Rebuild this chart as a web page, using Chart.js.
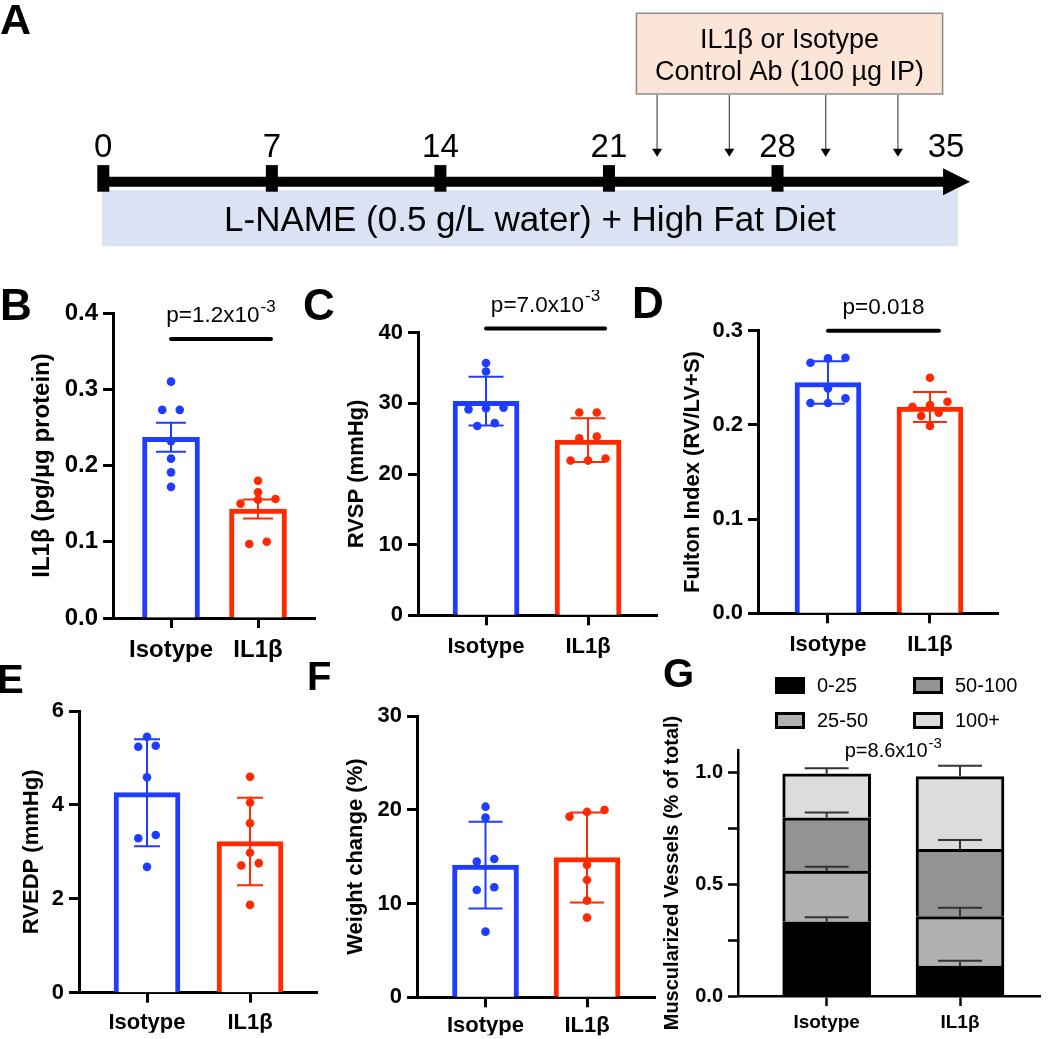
<!DOCTYPE html>
<html>
<head>
<meta charset="utf-8">
<title>IL1β blockade figure</title>
<script src="https://cdn.jsdelivr.net/npm/chart.js@4.4.1/dist/chart.umd.min.js"></script>
<style>
  html, body { margin:0; padding:0; background:#fff; }
  body { position:relative; width:1050px; height:1039px; overflow:hidden; font-family:"Liberation Sans", Arial, sans-serif; }
  canvas { position:absolute; }
  .letter { position:absolute; font-weight:bold; line-height:1; color:#000; white-space:nowrap; }
  .lg-item { position:absolute; height:17px; display:flex; align-items:center; font-size:20px; line-height:17px; white-space:nowrap; color:#000; }
  .lg-box { box-sizing:border-box; width:30px; height:17px; border:3px solid #000; margin-right:12px; flex:none; }
</style>
</head>
<body>
<canvas id="cA" width="1050" height="260" style="left:0;top:0"></canvas>
<canvas id="cB" width="330" height="390" style="left:0;top:290px"></canvas>
<canvas id="cC" width="330" height="390" style="left:330px;top:290px"></canvas>
<canvas id="cD" width="410" height="390" style="left:640px;top:290px"></canvas>
<canvas id="cE" width="330" height="369" style="left:0;top:670px"></canvas>
<canvas id="cF" width="330" height="369" style="left:330px;top:670px"></canvas>
<canvas id="cG" width="410" height="369" style="left:640px;top:670px"></canvas>

<div class="letter" style="left:0;top:-2px;font-size:43px">A</div>
<div class="letter" style="left:0;top:283px;font-size:44px">B</div>
<div class="letter" style="left:303px;top:283px;font-size:44px">C</div>
<div class="letter" style="left:632px;top:281px;font-size:44px">D</div>
<div class="letter" style="left:-3px;top:659px;font-size:40px">E</div>
<div class="letter" style="left:307px;top:656px;font-size:40px">F</div>
<div class="letter" style="left:663px;top:653px;font-size:40px">G</div>
<div id="legG"></div>

<script>
// ================= DATA =================
const categories = ['Isotype', 'IL1β'];

// Panel A – timeline (days)
const timelineDays = [0, 7, 14, 21, 28, 35];
const markedDays = [0, 7, 14, 21, 28];
const injectionDays = [23, 26, 30, 33];
const dietDays = [0, 35.5];
const dietText = 'L-NAME (0.5 g/L water) + High Fat Diet';
const injectionText = ['IL1β or Isotype', 'Control Ab (100 µg IP)'];

// Panel B – IL1β (pg/µg protein), mean ± SEM
const il1bMean = [0.237, 0.143];
const il1bErr = [0.019, 0.0125];
const il1bIsotype = [0.310, 0.273, 0.273, 0.232, 0.209, 0.191, 0.172];
const il1bTreated = [0.180, 0.165, 0.156, 0.155, 0.150, 0.100, 0.097];
const il1bP = ['p=1.2x10', '-3'];

// Panel C – RVSP (mmHg), mean ± SD
const rvspMean = [30.3, 24.8];
const rvspErr = [3.45, 3.1];
const rvspIsotype = [35.7, 34.5, 29.4, 29.3, 29.15, 27.2, 26.8];
const rvspTreated = [28.7, 28.7, 25.3, 25.05, 22.2, 21.9, 21.9];
const rvspP = ['p=7.0x10', '-3'];

// Panel D – Fulton index, mean ± SD
const fultonMean = [0.245, 0.219];
const fultonErr = [0.0226, 0.0159];
const fultonIsotype = [0.2713, 0.2706, 0.266, 0.2388, 0.2282, 0.2232, 0.2232];
const fultonTreated = [0.2501, 0.2246, 0.2211, 0.2193, 0.2130, 0.2094, 0.1988];
const fultonP = ['p=0.018', ''];

// Panel E – RVEDP (mmHg), mean ± SD
const rvedpMean = [4.26, 3.22];
const rvedpErr = [1.14, 0.93];
const rvedpIsotype = [5.45, 5.26, 5.24, 4.59, 3.36, 3.29, 2.68];
const rvedpTreated = [4.60, 4.05, 3.61, 2.98, 2.76, 2.71, 1.87];

// Panel F – Weight change (%), mean ± SD
const weightMean = [14.1, 14.9];
const weightErr = [4.62, 4.8];
const weightIsotype = [20.33, 19.16, 14.75, 14.47, 11.73, 11.45, 7.0];
const weightTreated = [19.98, 19.77, 19.27, 14.11, 12.51, 10.31, 8.50];

// Panel G – muscularized vessels (fraction of total), stacked
const vesselGroups = ['0-25', '25-50', '50-100', '100+'];
const vesselIsotype = [0.332, 0.227, 0.238, 0.197];
const vesselTreated = [0.134, 0.221, 0.301, 0.325];
const vesselIsotypeErr = [0.020, 0.019, 0.024, 0.024];
const vesselTreatedErr = [0.024, 0.040, 0.042, 0.049];
const vesselP = ['p=8.6x10', '-3'];

// ================= STYLE =================
const FONT = '"Liberation Sans", Arial, sans-serif';
Chart.defaults.font.family = FONT;
Chart.defaults.color = '#000';
const BLUE = '#1f3dff', RED = '#ff2a00';
const groupColors = [BLUE, RED];
const vesselColors = ['#000000', '#b0b0b0', '#939393', '#dcdcdc'];

function drawP(ctx, cx, cy, main, sup, size) {
  ctx.save();
  ctx.fillStyle = '#000';
  ctx.textAlign = 'left';
  ctx.textBaseline = 'alphabetic';
  ctx.font = size + 'px ' + FONT;
  const wm = ctx.measureText(main).width;
  const ss = Math.round(size * 0.74);
  ctx.font = ss + 'px ' + FONT;
  const ws = sup ? ctx.measureText(sup).width + 1 : 0;
  const sx = cx - (wm + ws) / 2;
  ctx.font = size + 'px ' + FONT;
  ctx.fillText(main, sx, cy + 0.358 * size);
  if (sup) {
    ctx.font = ss + 'px ' + FONT;
    ctx.fillText(sup, sx + wm + 1, cy - 0.36 * size + 0.358 * ss);
  }
  ctx.restore();
}

// beeswarm-style horizontal spread of points, computed from the chart's scales
function swarm(chart, groups, spacingPx, minGapPx) {
  const xs = chart.scales.x, ys = chart.scales.y;
  const unit = xs.getPixelForValue(1) - xs.getPixelForValue(0);
  groups.forEach((vals, gi) => {
    const ds = chart.data.datasets[gi + 1];
    const sorted = vals.map((v, k) => ({ v, k })).sort((a, b) => a.v - b.v);
    const rows = [];
    sorted.forEach(p => {
      const py = ys.getPixelForValue(p.v);
      const row = rows[rows.length - 1];
      if (row && Math.abs(row.py - py) < minGapPx) row.items.push(p);
      else rows.push({ py, items: [p] });
    });
    rows.forEach(r => {
      const n = r.items.length;
      r.items.forEach((p, j) => { ds.data[p.k].x = gi + (j - (n - 1) / 2) * spacingPx / unit; });
    });
  });
  chart.update('none');
}

function barPanel(id, o) {
  const tickFont = { family: FONT, size: o.fs, weight: 'bold' };
  const chart = new Chart(document.getElementById(id), {
    type: 'bar',
    data: {
      datasets: [
        { type: 'bar', data: o.mean.map((v, i) => ({ x: i, y: v })), backgroundColor: '#ffffff',
          borderColor: groupColors, borderWidth: 5, borderSkipped: 'start', barThickness: o.barW, order: 2 },
        ...o.points.map((arr, gi) => ({
          type: 'scatter', data: arr.map(v => ({ x: gi, y: v })), pointRadius: 4.3, pointBorderWidth: 0,
          pointBackgroundColor: groupColors[gi], pointBorderColor: groupColors[gi], order: 0 }))
      ]
    },
    options: {
      responsive: false, animation: false, devicePixelRatio: 1, events: [],
      layout: { autoPadding: false, padding: { left: 0, right: o.padR, top: o.padT, bottom: o.padB } },
      plugins: { legend: { display: false }, tooltip: { enabled: false } },
      scales: {
        x: {
          type: 'linear', min: o.xMin, max: o.xMax, offset: false,
          afterBuildTicks: ax => { ax.ticks = categories.map((c, i) => ({ value: i })); },
          afterFit: ax => { ax.height = o.xH; },
          ticks: { callback: v => categories[Math.round(v)], font: tickFont, color: '#000', padding: o.xPad, maxRotation: 0, autoSkip: false },
          grid: { offset: false, drawOnChartArea: false, drawTicks: true, tickLength: 10, tickWidth: 3, tickColor: '#000' },
          border: { display: true, color: '#000', width: 3 }
        },
        y: {
          min: o.yMin, max: o.yMax,
          afterFit: ax => { ax.width = o.yW; },
          ticks: { stepSize: o.step, callback: v => v.toFixed(o.dec), font: tickFont, color: '#000', padding: 5 },
          grid: { drawOnChartArea: false, drawTicks: true, tickLength: 10, tickWidth: 3, tickColor: '#000' },
          border: { display: true, color: '#000', width: 3 },
          title: { display: true, text: o.title, font: tickFont, color: '#000', padding: { top: o.titlePad, bottom: 0 } }
        }
      }
    },
    plugins: [{
      id: 'errorsAndP',
      afterDatasetDraw(chart, args) {
        if (args.index !== 0) return;
        const { ctx } = chart, xs = chart.scales.x, ys = chart.scales.y;
        ctx.save();
        ctx.lineWidth = 2;
        o.mean.forEach((m, i) => {
          const px = xs.getPixelForValue(i);
          const yt = ys.getPixelForValue(m + o.err[i]), yb = ys.getPixelForValue(m - o.err[i]);
          ctx.strokeStyle = groupColors[i];
          ctx.beginPath();
          ctx.moveTo(px, yt); ctx.lineTo(px, yb);
          ctx.moveTo(px - o.cap, yt); ctx.lineTo(px + o.cap, yt);
          ctx.moveTo(px - o.cap, yb); ctx.lineTo(px + o.cap, yb);
          ctx.stroke();
        });
        ctx.restore();
      },
      afterDraw(chart) {
        if (!o.p) return;
        const { ctx } = chart, xs = chart.scales.x, ys = chart.scales.y;
        const x0 = xs.getPixelForValue(0), x1 = xs.getPixelForValue(1) + o.sigExt;
        const by = ys.getPixelForValue(o.sigLevel);
        ctx.save();
        ctx.strokeStyle = '#000'; ctx.lineWidth = 4; ctx.lineCap = 'round';
        ctx.beginPath(); ctx.moveTo(x0, by); ctx.lineTo(x1, by); ctx.stroke();
        ctx.restore();
        drawP(ctx, (x0 + x1) / 2, by - 25, o.p[0], o.p[1], 22.5);
      }
    }]
  });
  swarm(chart, o.points, 17.5, 8);
  return chart;
}

// ================= PANEL A =================
const timelinePlugin = {
  id: 'timelineDecor',
  beforeDatasetsDraw(chart) {
    const { ctx } = chart, xs = chart.scales.x, ys = chart.scales.y;
    const ly = ys.getPixelForValue(0);
    const bx0 = xs.getPixelForValue(dietDays[0]) - 1.5, bx1 = xs.getPixelForValue(dietDays[1]);
    ctx.save();
    ctx.fillStyle = '#dae3f3';
    ctx.fillRect(bx0, ly + 8.5, bx1 - bx0, 56);
    ctx.fillStyle = '#000';
    ctx.font = '35px ' + FONT;
    ctx.textAlign = 'center'; ctx.textBaseline = 'alphabetic';
    ctx.fillText(dietText, (bx0 + bx1) / 2, ly + 49.5);
    ctx.restore();
  },
  afterDatasetsDraw(chart) {
    const { ctx } = chart, xs = chart.scales.x, ys = chart.scales.y;
    const ly = ys.getPixelForValue(0);
    ctx.save();
    // arrow head at end of the timeline
    const base = xs.getPixelForValue(timelineDays[timelineDays.length - 1]) - 3;
    ctx.fillStyle = '#000';
    ctx.beginPath();
    ctx.moveTo(base, ly - 13.5); ctx.lineTo(base + 27, ly); ctx.lineTo(base, ly + 13.5); ctx.closePath();
    ctx.fill();
    // day labels
    ctx.font = '33px ' + FONT;
    ctx.textAlign = 'center'; ctx.textBaseline = 'alphabetic';
    timelineDays.forEach(d => ctx.fillText(String(d), xs.getPixelForValue(d), ly - 24.7));
    // injection box
    const boxL = xs.getPixelForValue(injectionDays[0]) - 20.7;
    const boxR = xs.getPixelForValue(injectionDays[injectionDays.length - 1]) + 44.7;
    const boxT = ly - 168.4, boxB = ly - 87.7;
    ctx.fillStyle = '#fbe5d6';
    ctx.fillRect(boxL, boxT, boxR - boxL, boxB - boxT);
    ctx.strokeStyle = '#8c8c8c'; ctx.lineWidth = 1.5;
    ctx.strokeRect(boxL, boxT, boxR - boxL, boxB - boxT);
    ctx.fillStyle = '#000';
    ctx.font = '27px ' + FONT;
    ctx.fillText(injectionText[0], (boxL + boxR) / 2, ly - 133.4);
    ctx.fillText(injectionText[1], (boxL + boxR) / 2, ly - 101.7);
    // injection arrows
    ctx.strokeStyle = '#595959'; ctx.fillStyle = '#000'; ctx.lineWidth = 1.3;
    injectionDays.forEach(d => {
      const px = xs.getPixelForValue(d);
      ctx.beginPath(); ctx.moveTo(px, boxB + 1); ctx.lineTo(px, ly - 32); ctx.stroke();
      ctx.beginPath(); ctx.moveTo(px - 5, ly - 33); ctx.lineTo(px + 5, ly - 33); ctx.lineTo(px, ly - 25); ctx.closePath(); ctx.fill();
    });
    ctx.restore();
  }
};

new Chart(document.getElementById('cA'), {
  type: 'line',
  data: {
    datasets: [
      { type: 'line', data: [{ x: timelineDays[0], y: 0 }, { x: timelineDays[timelineDays.length - 1], y: 0 }],
        borderColor: '#000', borderWidth: 10, pointRadius: 0, borderCapStyle: 'butt' },
      { type: 'scatter', data: markedDays.map(d => ({ x: d, y: 3.3 })), pointStyle: 'line', pointRotation: 90,
        pointRadius: 13.3, pointBorderWidth: 12, pointBorderColor: '#000', pointBackgroundColor: '#000' }
    ]
  },
  options: {
    responsive: false, animation: false, devicePixelRatio: 1, events: [],
    layout: { autoPadding: false, padding: 0 },
    plugins: { legend: { display: false }, tooltip: { enabled: false } },
    scales: {
      x: { type: 'linear', display: false, min: -4.29, max: 39.316 },
      y: { type: 'linear', display: false, min: -78.3, max: 181.7 }
    }
  },
  plugins: [timelinePlugin]
});

// ================= PANELS B–F =================
barPanel('cB', { mean: il1bMean, err: il1bErr, points: [il1bIsotype, il1bTreated], yMin: 0, yMax: 0.4, step: 0.1, dec: 1,
  title: 'IL1β (pg/µg protein)', fs: 24, barW: 57, cap: 15, yW: 113, padR: 15, padT: 23, padB: 12, xH: 50, xPad: 8,
  xMin: -0.6667, xMax: 1.655, titlePad: 28, p: il1bP, sigLevel: 0.366, sigExt: 13 });

barPanel('cC', { mean: rvspMean, err: rvspErr, points: [rvspIsotype, rvspTreated], yMin: 0, yMax: 40, step: 10, dec: 0,
  title: 'RVSP (mmHg)', fs: 22, barW: 66, cap: 17.5, yW: 88, padR: 3, padT: 42.7, padB: 14.7, xH: 50, xPad: 8,
  xMin: -0.6667, xMax: 1.676, titlePad: 14, p: rvspP, sigLevel: 40.6, sigExt: 17 });

barPanel('cD', { mean: fultonMean, err: fultonErr, points: [fultonIsotype, fultonTreated], yMin: 0, yMax: 0.3, step: 0.1, dec: 1,
  title: 'Fulton Index (RV/LV+S)', fs: 22, barW: 66, cap: 17, yW: 118, padR: 52, padT: 40.7, padB: 16.7, xH: 50, xPad: 8,
  xMin: -0.686, xMax: 1.667, titlePad: 40, p: fultonP, sigLevel: 0.30, sigExt: 9 });

barPanel('cE', { mean: rvedpMean, err: rvedpErr, points: [rvedpIsotype, rvedpTreated], yMin: 0, yMax: 6, step: 2, dec: 0,
  title: 'RVEDP (mmHg)', fs: 22, barW: 66, cap: 13, yW: 79, padR: 13, padT: 41, padB: 6.3, xH: 40, xPad: 7,
  xMin: -0.660, xMax: 1.650, titlePad: 19, p: null });

barPanel('cF', { mean: weightMean, err: weightErr, points: [weightIsotype, weightTreated], yMin: 0, yMax: 30, step: 10, dec: 0,
  title: 'Weight change (%)', fs: 22, barW: 66, cap: 17, yW: 87, padR: 5, padT: 46, padB: 3.7, xH: 38, xPad: 5,
  xMin: -0.675, xMax: 1.670, titlePad: 13, p: null });

// ================= PANEL G =================
(function () {
  const tickFont = { family: FONT, size: 20, weight: 'bold' };
  const labFont = { family: FONT, size: 19, weight: 'bold' };
  const chart = new Chart(document.getElementById('cG'), {
    type: 'bar',
    data: {
      datasets: vesselGroups.map((g, i) => ({
        label: g,
        data: [{ x: 0, y: vesselIsotype[i] }, { x: 1, y: vesselTreated[i] }],
        backgroundColor: vesselColors[i], borderColor: '#000', borderWidth: 3, borderSkipped: 'start', barThickness: 88
      }))
    },
    options: {
      responsive: false, animation: false, devicePixelRatio: 1, events: [],
      layout: { autoPadding: false, padding: { left: 0, right: 10, top: 80, bottom: 3 } },
      plugins: { legend: { display: false }, tooltip: { enabled: false } },
      scales: {
        x: {
          type: 'linear', stacked: true, min: -0.665, max: 1.600, offset: false,
          afterBuildTicks: ax => { ax.ticks = categories.map((c, i) => ({ value: i })); },
          afterFit: ax => { ax.height = 40; },
          ticks: { callback: v => categories[Math.round(v)], font: labFont, color: '#000', padding: 5, maxRotation: 0, autoSkip: false },
          grid: { offset: false, drawOnChartArea: false, drawTicks: true, tickLength: 10, tickWidth: 2.5, tickColor: '#000' },
          border: { display: true, color: '#000', width: 2.5 }
        },
        y: {
          stacked: true, min: 0, max: 1.1,
          afterBuildTicks: ax => { ax.ticks = [0, 0.25, 0.5, 0.75, 1].map(v => ({ value: v })); },
          afterFit: ax => { ax.width = 98; },
          ticks: { callback: v => (Math.abs(v * 2 - Math.round(v * 2)) < 1e-9 ? v.toFixed(1) : ''), font: tickFont, color: '#000', padding: 5 },
          grid: { drawOnChartArea: false, drawTicks: true, tickLength: 10, tickWidth: 2.5, tickColor: '#000' },
          border: { display: true, color: '#000', width: 2.5 },
          title: { display: true, text: 'Muscularized Vessels (% of total)', font: tickFont, color: '#000', padding: { top: 20, bottom: 0 } }
        }
      }
    },
    plugins: [{
      id: 'stackErrors',
      afterDatasetsDraw(chart) {
        const { ctx } = chart, xs = chart.scales.x, ys = chart.scales.y;
        const groups = [[vesselIsotype, vesselIsotypeErr], [vesselTreated, vesselTreatedErr]];
        ctx.save();
        ctx.strokeStyle = '#333'; ctx.lineWidth = 2;
        groups.forEach(([vals, errs], gi) => {
          const px = xs.getPixelForValue(gi);
          let cum = 0;
          vals.forEach((v, i) => {
            cum += v;
            const y0 = ys.getPixelForValue(cum), y1 = ys.getPixelForValue(cum + errs[i]);
            ctx.beginPath();
            ctx.moveTo(px, y0); ctx.lineTo(px, y1);
            ctx.moveTo(px - 22, y1); ctx.lineTo(px + 22, y1);
            ctx.stroke();
          });
        });
        ctx.restore();
        const cx = (xs.getPixelForValue(0) + xs.getPixelForValue(1)) / 2;
        drawP(ctx, cx, ys.getPixelForValue(ys.max), vesselP[0], vesselP[1], 20);
      }
    }]
  });

  // legend (two columns) built from the series
  const leg = document.getElementById('legG');
  vesselGroups.forEach((g, i) => {
    const col = Math.floor(i / 2), row = i % 2;
    const item = document.createElement('div');
    item.className = 'lg-item';
    item.style.left = (775 + col * 138) + 'px';
    item.style.top = (677 + row * 35) + 'px';
    const box = document.createElement('span');
    box.className = 'lg-box';
    box.style.background = vesselColors[i];
    const txt = document.createElement('span');
    txt.textContent = g;
    item.appendChild(box); item.appendChild(txt);
    leg.appendChild(item);
  });
})();
</script>
</body>
</html>
